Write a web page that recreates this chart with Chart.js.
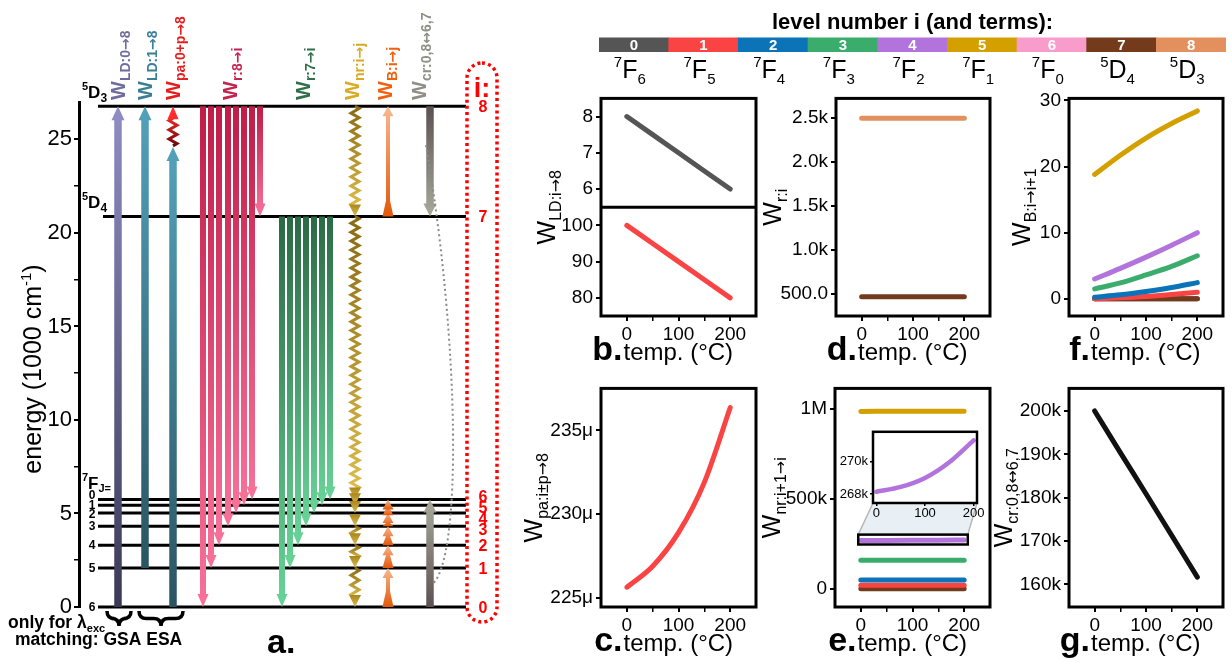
<!DOCTYPE html>
<html>
<head>
<meta charset="utf-8">
<script src="https://cdn.jsdelivr.net/npm/chart.js@4.4.1/dist/chart.umd.min.js"></script>
<style>
  body { margin: 0; background: #fff; }
  #wrap { position: relative; width: 1232px; height: 665px; overflow: hidden; background: #fff; }
  canvas { position: absolute; }
</style>
</head>
<body>
<div id="wrap">
  <canvas id="c_a"></canvas>
  <canvas id="c_bar"></canvas>
  <canvas id="c_b"></canvas>
  <canvas id="c_d"></canvas>
  <canvas id="c_f"></canvas>
  <canvas id="c_c"></canvas>
  <canvas id="c_e"></canvas>
  <canvas id="c_g"></canvas>
  <canvas id="c_inset"></canvas>
</div>
<script>
// ---- data ----
const levels = [0, 1, 2, 3, 4, 5, 6, 7, 8];
const levelColors = ['#555555', '#fa4343', '#0b74b8', '#3aad6d', '#b274dc', '#d4a000', '#f89ccc', '#743a1c', '#e3905e'];
const termSup = ['7', '7', '7', '7', '7', '7', '7', '5', '5'];
const termLetter = ['F', 'F', 'F', 'F', 'F', 'F', 'F', 'D', 'D'];
const termSub = ['6', '5', '4', '3', '2', '1', '0', '4', '3'];
const levelEnergy = [0, 2.08, 3.30, 4.32, 5.03, 5.44, 5.75, 20.88, 26.77]; // 1000 cm-1
const paPhoton = 24.6; // where the pump photon ends before the phonon step

// transitions in panel a (level indices)
const ldFrom = [0, 1];
const r8To = [0, 1, 2, 3, 4, 5, 6, 7];
const r7To = [0, 1, 2, 3, 4, 5, 6];
const nrSteps = [[8, 7], [7, 6], [6, 5], [5, 4], [4, 3], [3, 2], [2, 1], [1, 0]];
const bSteps = [[0, 1], [1, 2], [2, 3], [3, 4], [4, 5], [5, 6], [7, 8]];
const crSteps = [[8, 7], [0, 6]];

// rates vs temperature
const temps = [0, 50, 100, 150, 200];
const wLD0 = [8.0, 7.5, 7.0, 6.5, 6.0];
const wLD1 = [100, 95, 90, 85, 80];
const wPa = [225.65, 226.9, 228.9, 231.9, 236.35]; // micro
const wR8 = [2500, 2500, 2500, 2500, 2500];
const wR7 = [463, 463, 463, 463, 463];
const wNr5 = [987000, 987200, 987500, 987800, 988000];
const wNr4 = [268140, 268430, 268980, 269940, 271280];
const wNr3 = [158000, 158000, 158000, 158000, 158000];
const wNr2 = [48000, 48000, 48000, 48000, 48000];
const wNr1 = [19000, 19000, 19000, 19000, 19000];
const wNr7 = [0, 0, 0, 0, 0];
const wB5 = [18.8, 21.7, 24.3, 26.5, 28.4];
const wB4 = [3.0, 4.6, 6.3, 8.1, 10.0];
const wB3 = [1.5, 2.4, 3.6, 4.9, 6.5];
const wB2 = [0.25, 0.6, 1.1, 1.7, 2.45];
const wB1 = [0.02, 0.15, 0.35, 0.65, 1.0];
const wB0 = [0, 0, 0, 0, 0];
const wB7 = [0, 0, 0, 0, 0];
const wCr = [200000, 190400, 180900, 171300, 161700];

// tick values
const tempTicks = [0, 50, 100, 150, 200];
const insetTempTicks = [0, 100, 200];
const ticksB1 = [6, 7, 8];
const ticksB2 = [80, 90, 100];
const ticksC = [225, 230, 235];
const ticksD = [500, 1000, 1500, 2000, 2500];
const ticksE = [0, 500000, 1000000];
const ticksInset = [268000, 270000];
const ticksF = [0, 10, 20, 30];
const ticksG = [160000, 170000, 180000, 190000, 200000];

// ---- layout ----
const FONT = "'Liberation Sans', Arial, sans-serif";
const ARROW_FONT = "'DejaVu Sans', sans-serif";
Chart.defaults.font.family = FONT;
Chart.defaults.color = '#000';
Chart.defaults.animation = false;
Chart.defaults.responsive = false;
Chart.defaults.plugins.legend.display = false;
Chart.defaults.plugins.tooltip.enabled = false;

const COL = { ld: [118, 145], pa: 173, r8: [203, 211, 219, 228, 236, 244, 252, 260],
  r7: [282, 290, 298, 306, 314, 322, 330], nr: 355, b: 388, cr: 430 };

const FR = {
  b: { l: 601, t: 94, r: 756, b: 316 }, d: { l: 836, t: 94, r: 990, b: 316 }, f: { l: 1069, t: 94, r: 1223, b: 316 },
  c: { l: 601, t: 387, r: 756, b: 607 }, e: { l: 835, t: 387, r: 990, b: 607 }, g: { l: 1069, t: 387, r: 1223, b: 607 },
  inset: { l: 873, t: 429, r: 977, b: 503 }
};
const BOX = {
  b: { l: 515, t: 84, w: 245, h: 290 }, d: { l: 760, t: 84, w: 240, h: 290 }, f: { l: 1000, t: 84, w: 232, h: 290 },
  c: { l: 515, t: 374, w: 245, h: 291 }, e: { l: 760, t: 374, w: 240, h: 291 }, g: { l: 985, t: 374, w: 247, h: 291 },
  inset: { l: 826, t: 422, w: 160, h: 100 }
};
const TX = { b: 555, c: 542, d: 781, e: 780, f: 1030, g: 1012 };
const zoomX = [-5, 207], zoomY = [246000, 301000];

function place(id, b) {
  const cv = document.getElementById(id);
  cv.width = b.w; cv.height = b.h;
  cv.style.left = b.l + 'px'; cv.style.top = b.t + 'px';
  return cv;
}

// text made of pieces with their own size / offset (sub- and superscripts)
function rich(ctx, parts, x, y, rot, align, color) {
  ctx.save();
  ctx.translate(x, y);
  if (rot) ctx.rotate(rot);
  ctx.textBaseline = 'alphabetic';
  ctx.textAlign = 'left';
  const fontOf = p => (p.bold ? 'bold ' : '') + p.size + 'px ' + (p.fam || FONT);
  let w = 0;
  for (const p of parts) { ctx.font = fontOf(p); w += ctx.measureText(p.t).width; }
  let cx = align === 'center' ? -w / 2 : align === 'right' ? -w : 0;
  for (const p of parts) {
    ctx.font = fontOf(p);
    ctx.fillStyle = p.color || color || '#000';
    ctx.fillText(p.t, cx, p.dy || 0);
    cx += ctx.measureText(p.t).width;
  }
  ctx.restore();
}

// subscript pieces; arrows taken from DejaVu so they keep full length
function subParts(str, size, dy, bold) {
  return str.split(/([→↔])/).filter(s => s).map(s => ({
    t: s, size, dy, bold, fam: /[→↔]/.test(s) ? ARROW_FONT : null
  }));
}

function arrow(ctx, x, y0, y1, o) {
  const d = y1 < y0 ? -1 : 1;
  const len = Math.abs(y1 - y0);
  const hl = Math.min(o.hl, len);
  const yb = y1 - d * hl;
  const bw = o.base || o.sw;
  const tl = o.base ? Math.max(0, Math.min(o.baseL, len - hl)) : 0;
  const g = ctx.createLinearGradient(0, y0, 0, y1 + 0.01);
  g.addColorStop(0, o.c0);
  g.addColorStop(1, o.c1);
  ctx.fillStyle = g;
  ctx.beginPath();
  ctx.moveTo(x - bw / 2, y0);
  ctx.lineTo(x - o.sw / 2, y0 + d * tl);
  ctx.lineTo(x - o.sw / 2, yb);
  ctx.lineTo(x - o.hw / 2, yb);
  ctx.lineTo(x, y1);
  ctx.lineTo(x + o.hw / 2, yb);
  ctx.lineTo(x + o.sw / 2, yb);
  ctx.lineTo(x + o.sw / 2, y0 + d * tl);
  ctx.lineTo(x + bw / 2, y0);
  ctx.closePath();
  ctx.fill();
}

function zigzag(ctx, x, y0, y1, amp, half, c0, c1, lw) {
  const n = Math.max(2, Math.round(Math.abs(y1 - y0) / half));
  const st = (y1 - y0) / n;
  const g = ctx.createLinearGradient(0, y0, 0, y1 + 0.01);
  g.addColorStop(0, c0); g.addColorStop(1, c1);
  ctx.strokeStyle = g; ctx.lineWidth = lw; ctx.lineJoin = 'miter';
  ctx.beginPath(); ctx.moveTo(x, y0);
  for (let k = 0; k < n; k++) ctx.lineTo(x + (k % 2 ? -amp : amp), y0 + st * (k + 0.5));
  ctx.lineTo(x, y1);
  ctx.stroke();
}

function brace(ctx, x1, x2, y, h) {
  const xm = (x1 + x2) / 2, r = h / 2;
  ctx.beginPath();
  ctx.moveTo(x1, y);
  ctx.quadraticCurveTo(x1, y + r, x1 + r, y + r);
  ctx.lineTo(xm - r, y + r);
  ctx.quadraticCurveTo(xm, y + r, xm, y + h);
  ctx.quadraticCurveTo(xm, y + r, xm + r, y + r);
  ctx.lineTo(x2 - r, y + r);
  ctx.quadraticCurveTo(x2, y + r, x2, y);
  ctx.stroke();
}

// ---- panel a: energy levels ----
const topLabels = [
  { sub: 'LD:0→8', x: COL.ld[0], c: '#6f6d9d' }, { sub: 'LD:1→8', x: COL.ld[1], c: '#3b7f96' },
  { sub: 'pa:0+p→8', x: COL.pa, c: '#e51d1d' }, { sub: 'r:8→i', x: 230, c: '#c62250' },
  { sub: 'r:7→i', x: 303, c: '#2f7049' }, { sub: 'nr:i→j', x: 352, c: '#d9aa22' },
  { sub: 'B:i→j', x: 385, c: '#f0600f' }, { sub: 'cr:0,8↔6,7', x: 419, c: '#8f8f85' }
];

const diagram = {
  id: 'diagram',
  afterDatasetsDraw(chart) {
    const ctx = chart.ctx;
    const ys = chart.scales.y;
    const Y = v => ys.getPixelForValue(v);
    const E = i => Y(levelEnergy[i]);
    ctx.save();

    const ldCol = [['#3b3956', '#8f8dc2'], ['#2a5462', '#53a2ba']];
    ldFrom.forEach((i, k) => arrow(ctx, COL.ld[k], E(i), E(8), { sw: 7.5, hw: 13, hl: 14, c0: ldCol[k][0], c1: ldCol[k][1] }));

    arrow(ctx, COL.pa, E(0), Y(paPhoton), { sw: 7.5, hw: 13, hl: 14, c0: '#2a5462', c1: '#53a2ba' });
    zigzag(ctx, COL.pa, Y(paPhoton) - 1, E(8) + 12, 4, 4.5, '#6e0808', '#e62a2a', 3);
    arrow(ctx, COL.pa, E(8) + 13, E(8), { sw: 0, hw: 11, hl: 13, c0: '#ff2a2a', c1: '#ff3030' });

    r8To.forEach((j, k) => arrow(ctx, COL.r8[k], E(8), E(j), { sw: 6, hw: 11, hl: 13, c0: '#c01c48', c1: '#f8729a' }));
    r7To.forEach((j, k) => arrow(ctx, COL.r7[k], E(7), E(j), { sw: 6, hw: 11, hl: 13, c0: '#2a6a44', c1: '#68d498' }));

    nrSteps.forEach(([a, b]) => {
      const y0 = E(a), y1 = E(b), hl = 12;
      if (y1 - y0 > hl + 3) zigzag(ctx, COL.nr, y0, y1 - hl + 2, 4, 4.5, '#8a6a12', '#dcbc4c', 3);
      arrow(ctx, COL.nr, y1 - hl, y1, { sw: 0, hw: 12, hl: hl, c0: '#a8861c', c1: '#dcbc52' });
    });

    bSteps.forEach(([a, b]) => {
      const y1 = E(b), y0 = Math.max(E(a), y1 + 10);
      arrow(ctx, COL.b, y0, y1, { sw: 4, hw: 11, hl: 10, base: 11, baseL: 16, c0: '#e2580a', c1: '#f9b890' });
    });

    crSteps.forEach(([a, b]) => arrow(ctx, COL.cr, E(a), E(b), { sw: 7.5, hw: 13, hl: 13, c0: '#5a5252', c1: '#aaa99a' }));

    // dotted link of the cross-relaxation pair
    ctx.setLineDash([2, 3]);
    ctx.strokeStyle = '#8a8a8a'; ctx.lineWidth = 2;
    ctx.beginPath();
    ctx.moveTo(COL.cr - 4, Y(24.7));
    ctx.bezierCurveTo(COL.cr + 30, Y(14), COL.cr + 32, Y(2.5), COL.cr + 2, Y(1.2));
    ctx.stroke();

    // red dotted box with level numbers
    ctx.setLineDash([3, 3.2]);
    ctx.strokeStyle = '#ff0000'; ctx.lineWidth = 3.5;
    const bx = 467, by = 63, bw = 30, bh = 559, rr = 15;
    ctx.beginPath();
    ctx.moveTo(bx + rr, by); ctx.lineTo(bx + bw - rr, by); ctx.arcTo(bx + bw, by, bx + bw, by + rr, rr);
    ctx.lineTo(bx + bw, by + bh - rr); ctx.arcTo(bx + bw, by + bh, bx + bw - rr, by + bh, rr);
    ctx.lineTo(bx + rr, by + bh); ctx.arcTo(bx, by + bh, bx, by + bh - rr, rr);
    ctx.lineTo(bx, by + rr); ctx.arcTo(bx, by, bx + rr, by, rr);
    ctx.stroke();
    ctx.setLineDash([]);

    rich(ctx, [{ t: 'i:', size: 27, bold: true }], 482, 97, 0, 'center', '#ff0000');
    let prev = -1e9;
    const numY = [];
    for (let i = 8; i >= 0; i--) {
      let yy = E(i) + 6;
      if (i === 6) yy -= 3;
      if (yy < prev + 11 && i < 7) yy = prev + 11;
      numY[i] = yy; prev = yy;
    }
    levels.forEach(i => rich(ctx, [{ t: String(i), size: 16, bold: true }], 483, numY[i], 0, 'center', '#ff0000'));

    // term labels on the left
    rich(ctx, [{ t: '5', size: 11, bold: true, dy: -8 }, { t: 'D', size: 17, bold: true }, { t: '3', size: 12, bold: true, dy: 4 }], 82, E(8) - 8, 0, 'left');
    rich(ctx, [{ t: '5', size: 11, bold: true, dy: -8 }, { t: 'D', size: 17, bold: true }, { t: '4', size: 12, bold: true, dy: 4 }], 82, E(7) - 8, 0, 'left');
    rich(ctx, [{ t: '7', size: 11, bold: true, dy: -8 }, { t: 'F', size: 17, bold: true }, { t: 'J=', size: 11, bold: true, dy: 3 }], 82, E(6) - 10, 0, 'left');
    prev = -1e9;
    for (let i = 6; i >= 0; i--) {
      let yy = E(i) + 4;
      if (i === 6) yy -= 4;
      if (yy < prev + 8.5) yy = prev + 8.5;
      prev = yy;
      rich(ctx, [{ t: termSub[i], size: 12, bold: true }], 92, yy, 0, 'center');
    }

    // rotated rate labels on top
    topLabels.forEach(L => rich(ctx, [{ t: 'W', size: 20, bold: true }].concat(subParts(L.sub, 14, 5, true)), L.x + 7, 100, -Math.PI / 2, 'left', L.c));

    // axis title
    rich(ctx, [{ t: 'energy (1000 cm', size: 25 }, { t: '-1', size: 15, dy: -10 }, { t: ')', size: 25 }], 41, 369, -Math.PI / 2, 'center');

    // GSA / ESA note
    ctx.strokeStyle = '#000'; ctx.lineWidth = 3.5;
    brace(ctx, 107, 131, 611, 15);
    brace(ctx, 139, 183, 611, 15);
    rich(ctx, [{ t: 'only for λ', size: 17.5, bold: true }, { t: 'exc', size: 11, bold: true, dy: 4 }], 8, 628, 0, 'left');
    rich(ctx, [{ t: 'matching: GSA ESA', size: 17.5, bold: true }], 15, 645, 0, 'left');
    rich(ctx, [{ t: 'a.', size: 34, bold: true }], 267, 653, 0, 'left');
    ctx.restore();
  }
};

new Chart(place('c_a', { l: 0, t: 0, w: 520, h: 665 }), {
  type: 'line',
  data: {
    datasets: levels.map(i => ({
      data: [{ x: i === 7 ? 103 : 98, y: levelEnergy[i] }, { x: 466, y: levelEnergy[i] }],
      borderColor: '#000', borderWidth: 3, pointRadius: 0, clip: false
    }))
  },
  options: {
    layout: { padding: { left: 0, top: 102, right: 52, bottom: 58 } },
    scales: {
      x: { type: 'linear', min: 79, max: 468, display: false },
      y: {
        type: 'linear', min: 0, max: 27,
        border: { display: true, width: 3, color: '#000' },
        grid: { drawOnChartArea: false, color: '#000', lineWidth: c => (c.tick && c.tick.value % 5 === 0 ? 2 : 1.5), tickLength: 5 },
        ticks: { stepSize: 2.5, includeBounds: false, font: { size: 22 }, color: '#000', padding: 2,
          callback: v => (v % 5 === 0 ? String(v) : '') },
        afterFit: s => { s.width = 79; }
      }
    }
  },
  plugins: [diagram]
});

// ---- level colour bar ----
const barText = {
  id: 'barText',
  afterDatasetsDraw(chart) {
    const ctx = chart.ctx, a = chart.chartArea;
    const bars = chart.getDatasetMeta(0).data;
    ctx.save();
    bars.forEach((b, i) => {
      rich(ctx, [{ t: String(levels[i]), size: 15, bold: true }], b.x, a.bottom - 2.5, 0, 'center', '#fff');
      rich(ctx, [{ t: termSup[i], size: 15, dy: -11 }, { t: termLetter[i], size: 25 }, { t: termSub[i], size: 15, dy: 6 }], b.x - 4, a.bottom + 26, 0, 'center');
    });
    ctx.restore();
  }
};

new Chart(place('c_bar', { l: 590, t: 0, w: 642, h: 90 }), {
  type: 'bar',
  data: {
    labels: levels.map(String),
    datasets: [{ data: levels.map(() => 1), backgroundColor: levelColors, barPercentage: 1, categoryPercentage: 1, borderWidth: 0 }]
  },
  options: {
    layout: { padding: { left: 9, right: 6, top: 0, bottom: 38 } },
    scales: { x: { display: false }, y: { display: false, min: 0, max: 1 } },
    plugins: {
      title: { display: true, text: 'level number i (and terms):', font: { size: 22, weight: 'bold' }, color: '#000', padding: { top: 10, bottom: 1 } }
    }
  },
  plugins: [barText]
});

// ---- small panels ----
const deco = {
  id: 'deco',
  afterDraw(chart, args, o) {
    const { ctx, chartArea: a } = chart;
    ctx.save();
    ctx.strokeStyle = '#000';
    ctx.lineWidth = 3;
    ctx.strokeRect(a.left, a.top, a.right - a.left, a.bottom - a.top);
    rich(ctx, [{ t: 'W', size: 25 }].concat(subParts(o.sub, 16, 6)), o.tx, (a.top + a.bottom) / 2, -Math.PI / 2, 'center');
    const cx = (a.left + a.right) / 2;
    rich(ctx, [{ t: o.letter, size: 34, bold: true }], cx - 56, a.bottom + 44, 0, 'right');
    rich(ctx, [{ t: 'temp. (°C)', size: 24 }], cx - 55, a.bottom + 44, 0, 'left');
    ctx.restore();
  }
};

const setTicks = vals => s => { s.ticks = vals.map(v => ({ value: v })); };

function xAxis(xH) {
  return {
    type: 'linear', min: -50, max: 250,
    border: { display: false },
    grid: { drawOnChartArea: false, tickLength: 5, color: '#000',
      lineWidth: c => (c.tick && c.tick.value % 100 === 0 ? 2 : 1.5) },
    ticks: { autoSkip: false, maxRotation: 0, font: { size: 19 }, color: '#000', padding: 2,
      callback: v => (v % 100 === 0 ? String(v) : '') },
    afterBuildTicks: setTicks(tempTicks),
    afterFit: s => { s.height = xH; }
  };
}

function yAxis(min, max, tickVals, fmt, extra) {
  return Object.assign({
    type: 'linear', position: 'left', min, max,
    border: { display: false },
    grid: { drawOnChartArea: false, color: '#000', lineWidth: 2, tickLength: 5 },
    ticks: { font: { size: 19 }, color: '#000', padding: 3, callback: fmt },
    afterBuildTicks: setTicks(tickVals)
  }, extra || {});
}

const ser = (vals, ci, yID, lw) => ({
  data: vals.map((v, k) => ({ x: temps[k], y: v })),
  borderColor: levelColors[ci], borderWidth: lw || 5, pointRadius: 0, borderCapStyle: 'round',
  cubicInterpolationMode: 'monotone', yAxisID: yID || 'y', clip: false
});

function makePlot(key, datasets, yScales, sub, letter, more) {
  const box = BOX[key], fr = FR[key];
  const cv = place('c_' + key, box);
  const yW = fr.l - box.l, xH = box.t + box.h - fr.b;
  Object.values(yScales).forEach(s => { s.afterFit = sc => { sc.width = yW; }; });
  return new Chart(cv, {
    type: 'line',
    data: { datasets },
    options: {
      layout: { padding: { left: 0, top: fr.t - box.t, right: box.l + box.w - fr.r, bottom: 0 } },
      scales: Object.assign({ x: xAxis(xH) }, yScales),
      plugins: { deco: { sub, letter, tx: TX[key] - box.l } }
    },
    plugins: [deco].concat(more || [])
  });
}

const divider = {
  id: 'divider',
  afterDraw(chart) {
    const { ctx, chartArea: a, scales } = chart;
    const upper = [scales.y1, scales.y2].sort((p, q) => p.top - q.top)[0];
    ctx.save();
    ctx.strokeStyle = '#000'; ctx.lineWidth = 3;
    ctx.beginPath(); ctx.moveTo(a.left, upper.bottom); ctx.lineTo(a.right, upper.bottom); ctx.stroke();
    ctx.restore();
  }
};

makePlot('b', [ser(wLD0, 0, 'y1'), ser(wLD1, 1, 'y2')], {
  y1: yAxis(5.5, 8.5, ticksB1, v => String(v), { stack: 'b', stackWeight: 1, weight: 2 }),
  y2: yAxis(75, 105, ticksB2, v => String(v), { stack: 'b', stackWeight: 1, weight: 1 })
}, 'LD:i→8', 'b.', [divider]);

makePlot('d', [ser(wR8, 8), ser(wR7, 7)], {
  y: yAxis(245, 2725, ticksD, v => (v >= 1000 ? (v / 1000).toFixed(1) + 'k' : v.toFixed(1)))
}, 'r:i', 'd.');

makePlot('f', [ser(wB5, 5), ser(wB4, 4), ser(wB3, 3), ser(wB2, 2), ser(wB1, 1), ser(wB7, 7), ser(wB0, 0)], {
  y: yAxis(-2.6, 30.3, ticksF, v => String(v))
}, 'B:i→i+1', 'f.');

makePlot('c', [ser(wPa, 1)], {
  y: yAxis(224.47, 237.5, ticksC, v => v + 'μ')
}, 'pa:i±p→8', 'c.');

const zoomLink = {
  id: 'zoomLink',
  afterDatasetsDraw(chart) {
    const { ctx, scales: { x, y } } = chart;
    const l = x.getPixelForValue(zoomX[0]), r = x.getPixelForValue(zoomX[1]);
    const t = y.getPixelForValue(zoomY[1]), b = y.getPixelForValue(zoomY[0]);
    const il = FR.inset.l - BOX.e.l, ir = FR.inset.r - BOX.e.l, ib = FR.inset.b - BOX.e.t;
    ctx.save();
    ctx.fillStyle = 'rgba(214,228,236,0.55)';
    ctx.beginPath(); ctx.moveTo(l, t); ctx.lineTo(il, ib); ctx.lineTo(ir, ib); ctx.lineTo(r, t); ctx.closePath(); ctx.fill();
    ctx.strokeStyle = '#b8b8b8'; ctx.lineWidth = 1.5;
    ctx.beginPath(); ctx.moveTo(l, t); ctx.lineTo(il, ib); ctx.moveTo(r, t); ctx.lineTo(ir, ib); ctx.stroke();
    ctx.strokeStyle = '#000'; ctx.lineWidth = 2.5;
    ctx.strokeRect(l, t, r - l, b - t);
    ctx.restore();
  }
};

makePlot('e', [ser(wNr5, 5), ser(wNr4, 4), ser(wNr3, 3), ser(wNr2, 2), ser(wNr1, 1), ser(wNr7, 7)], {
  y: yAxis(-102000, 1115000, ticksE, v => (v === 0 ? '0' : v >= 1e6 ? (v / 1e6) + 'M' : (v / 1e3) + 'k'))
}, 'nr:i+1→i', 'e.', [zoomLink]);

makePlot('g', [{ ...ser(wCr, 0), borderColor: '#111' }], {
  y: yAxis(154800, 205200, ticksG, v => (v / 1000) + 'k')
}, 'cr:0,8↔6,7', 'g.');

// ---- inset of panel e ----
const insetFrame = {
  id: 'insetFrame',
  beforeDatasetsDraw(chart) {
    const { ctx, chartArea: a } = chart;
    ctx.save(); ctx.fillStyle = '#fff';
    ctx.fillRect(a.left, a.top, a.right - a.left, a.bottom - a.top);
    ctx.restore();
  },
  afterDraw(chart) {
    const { ctx, chartArea: a } = chart;
    ctx.save(); ctx.strokeStyle = '#000'; ctx.lineWidth = 2.5;
    ctx.strokeRect(a.left, a.top, a.right - a.left, a.bottom - a.top);
    ctx.restore();
  }
};

(function () {
  const box = BOX.inset, fr = FR.inset;
  const yW = fr.l - box.l, xH = box.t + box.h - fr.b;
  new Chart(place('c_inset', box), {
    type: 'line',
    data: { datasets: [ser(wNr4, 4, 'y', 4.5)] },
    options: {
      layout: { padding: { left: 0, top: fr.t - box.t, right: box.l + box.w - fr.r, bottom: 0 } },
      scales: {
        x: { type: 'linear', min: -7, max: 207, border: { display: false },
          grid: { drawOnChartArea: false, color: '#000', lineWidth: 1.5, tickLength: 3 },
          ticks: { font: { size: 13 }, color: '#000', padding: 0, maxRotation: 0, autoSkip: false },
          afterBuildTicks: setTicks(insetTempTicks),
          afterFit: s => { s.height = xH; } },
        y: { type: 'linear', min: 267450, max: 271800, border: { display: false },
          grid: { drawOnChartArea: false, color: '#000', lineWidth: 1.5, tickLength: 3 },
          ticks: { font: { size: 13 }, color: '#000', padding: 2, callback: v => (v / 1000) + 'k' },
          afterBuildTicks: setTicks(ticksInset),
          afterFit: s => { s.width = yW; } }
      }
    },
    plugins: [insetFrame]
  });
})();
</script>
</body>
</html>
